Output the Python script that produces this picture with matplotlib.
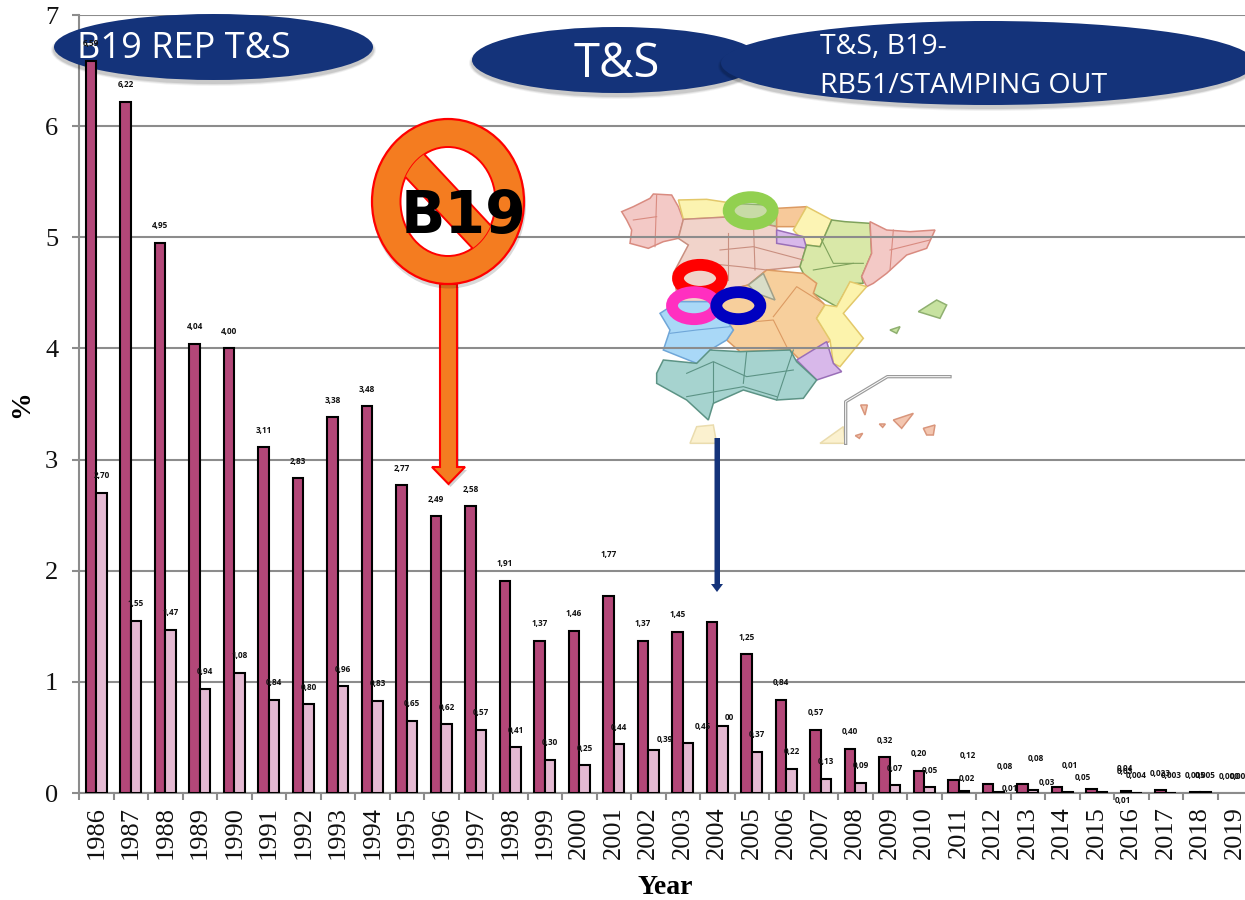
import numpy as np
import matplotlib
matplotlib.use("Agg")
import matplotlib.pyplot as plt
from matplotlib.patches import Ellipse, Polygon
from matplotlib.transforms import Affine2D

years = list(range(1986, 2020))
dark_values = [6.59, 6.22, 4.95, 4.04, 4.00, 3.11, 2.83, 3.38, 3.48, 2.77, 2.49, 2.58, 1.91, 1.37, 1.46, 1.77, 1.37,
               1.45, 1.54, 1.25, 0.84, 0.57, 0.40, 0.32, 0.20, 0.12, 0.08, 0.08, 0.05, 0.04, 0.02, 0.023, 0.005, 0.0]
light_values = [2.70, 1.55, 1.47, 0.94, 1.08, 0.84, 0.80, 0.96, 0.83, 0.65, 0.62, 0.57, 0.41, 0.30, 0.25, 0.44, 0.39,
                0.45, 0.60, 0.37, 0.22, 0.13, 0.09, 0.07, 0.05, 0.02, 0.01, 0.03, 0.01, 0.01, 0.004, 0.003, 0.005, 0.0]
dark_labels = ["6,59", "6,22", "4,95", "4,04", "4,00", "3,11", "2,83", "3,38", "3,48", "2,77", "2,49", "2,58", "1,91",
               "1,37", "1,46", "1,77", "1,37", "1,45", "", "1,25", "0,84", "0,57", "0,40", "0,32", "0,20", "0,12",
               "0,08", "0,08", "0,05", "0,03", "0,04", "0,023", "0,005", "0,000"]
light_labels = ["2,70", "1,55", "1,47", "0,94", "1,08", "0,84", "0,80", "0,96", "0,83", "0,65", "0,62", "0,57", "0,41",
                "0,30", "0,25", "0,44", "0,39", "0,45", "00", "0,37", "0,22", "0,13", "0,09", "0,07", "0,05", "0,02",
                "0,01", "0,03", "0,01", "0,01", "0,004", "0,003", "0,005", "0,000"]
# label offsets in pixels (dx, dy) where they leave the usual position
dark_offset = {15: (0, 42), 25: (14, 24), 26: (17, 18), 27: (13, 26), 28: (26, 10), 29: (33, 17), 30: (-1, 22)}
light_offset = {16: (11, 10), 17: (15, 16), 18: (7, 9), 25: (3, 12), 26: (11, 3), 27: (14, 7), 28: (2.5, 26),
                29: (21, -9)}

W, H = 1245, 900
DARK, LIGHT, NAVY, GRID = "#b34778", "#e4b9d2", "#14337a", "#8c8c8c"
SERIF = "Liberation Serif"

fig = plt.figure(figsize=(W / 100, H / 100), dpi=100, facecolor="white")
ax = fig.add_axes([79 / W, (H - 793) / H, 1173 / W, 778 / H])
ax.set_facecolor("none")
px = Affine2D().scale(1 / W, -1 / H).translate(0, 1) + fig.transFigure


def ell(cx, cy, w, h, z, **kw):
    p = Ellipse((cx, cy), w, h, transform=px, clip_on=False, zorder=z, **kw)
    ax.add_patch(p)
    return p


def shadow(cx, cy, w, h, z):
    for i, a in zip((6, 4, 2), (0.05, 0.07, 0.10)):
        ell(cx, cy + 3, w + i, h + i, z, fc="#000000", ec="none", alpha=a)


# ---------- map, kept below the grid lines ----------
def zm(points):
    return [(600 + a / 3, 170 + b / 3) for a, b in points]


regions = [
    ("#f3c9c6", "#d98b80", [(65, 125), (100, 110), (150, 85), (160, 72), (215, 75), (235, 110), (250, 150), (235, 205), (190, 215), (145, 235), (90, 220), (95, 180), (80, 150)]),
    ("#fbf3b0", "#e3c86a", [(235, 90), (320, 88), (400, 100), (400, 140), (250, 148)]),
    ("#c8dba6", "#8fb070", [(400, 100), (500, 105), (530, 115), (530, 170), (400, 140)]),
    ("#f1d3ca", "#c98f80", [(250, 148), (400, 140), (530, 170), (530, 205), (620, 225), (600, 290), (500, 300), (445, 345), (385, 360), (340, 395), (235, 395), (220, 310), (265, 225), (235, 205)]),
    ("#f7c99a", "#dc9a62", [(530, 115), (620, 110), (590, 170), (530, 170)]),
    ("#fcf4b4", "#e3c86a", [(620, 110), (695, 150), (660, 230), (620, 225), (580, 180)]),
    ("#d8b8ea", "#9a6fb8", [(530, 180), (610, 200), (620, 235), (530, 220)]),
    ("#d9e8a8", "#7fa25c", [(695, 150), (735, 155), (810, 160), (815, 250), (785, 320), (790, 340), (750, 340), (710, 410), (640, 370), (600, 290), (620, 225), (660, 230)]),
    ("#f3c9c6", "#d98b80", [(810, 155), (860, 180), (930, 185), (1005, 180), (980, 235), (920, 255), (860, 310), (820, 340), (800, 350), (785, 320), (815, 250)]),
    ("#f7cf9c", "#dc9a62", [(500, 300), (610, 310), (650, 340), (640, 370), (675, 405), (650, 445), (695, 510), (600, 570), (570, 540), (420, 545), (380, 510), (400, 480), (345, 400), (385, 360), (445, 345)]),
    ("#d9ddc8", "#a0a08a", [(490, 310), (525, 390), (470, 370), (445, 345)]),
    ("#fcf3ac", "#e3c86a", [(750, 335), (800, 350), (730, 430), (790, 505), (720, 590), (700, 580), (690, 510), (650, 445), (675, 405), (710, 410)]),
    ("#d8b8ea", "#9a6fb8", [(680, 515), (700, 580), (725, 605), (650, 630), (590, 570)]),
    ("#a9d8f7", "#6fa6d8", [(235, 395), (340, 395), (400, 480), (380, 510), (330, 540), (330, 565), (290, 580), (190, 540), (210, 480), (180, 430)]),
    ("#a6d3cf", "#5c9385", [(190, 570), (290, 580), (330, 540), (420, 545), (570, 540), (590, 575), (650, 630), (610, 685), (530, 690), (430, 660), (340, 700), (325, 750), (260, 690), (170, 640), (170, 610)]),
    ("#c7e2a0", "#8fb070", [(955, 425), (1010, 390), (1040, 405), (1020, 445)]),
    ("#c7e2a0", "#8fb070", [(870, 480), (900, 470), (890, 490)]),
    ("#fbf1cf", "#eadcae", [(270, 820), (290, 770), (340, 765), (350, 820)]),
    ("#fbf1cf", "#eadcae", [(660, 820), (730, 770), (735, 820)]),
    ("#f3c6b0", "#d9967c", [(880, 750), (940, 730), (905, 775)]),
    ("#f3c6b0", "#d9967c", [(970, 775), (1005, 765), (1000, 795), (980, 795)]),
    ("#f3c6b0", "#d9967c", [(782, 705), (802, 705), (795, 735)]),
    ("#f3c6b0", "#d9967c", [(838, 762), (856, 762), (848, 772)]),
    ("#f3c6b0", "#d9967c", [(766, 797), (788, 790), (778, 805)]),
]
for fc, ec, pts in regions:
    ax.add_patch(Polygon(zm(pts), closed=True, fc=fc, ec=ec, lw=1.1, transform=px, clip_on=False, zorder=0.3))
inner_lines = [
    ([(360, 240), (460, 230), (610, 270)], "#c98f80"), ([(385, 190), (385, 330)], "#c98f80"),
    ([(460, 150), (465, 300)], "#c98f80"), ([(520, 440), (590, 350), (670, 400)], "#dc9a62"),
    ([(410, 460), (520, 450), (560, 530)], "#dc9a62"), ([(210, 490), (290, 480), (390, 470)], "#6fa6d8"),
    ([(260, 610), (340, 575), (440, 620), (580, 600)], "#5c9385"), ([(260, 680), (430, 650), (530, 680)], "#5c9385"),
    ([(440, 545), (430, 640)], "#5c9385"), ([(660, 200), (700, 280), (790, 280)], "#7fa25c"),
    ([(880, 180), (870, 300)], "#d98b80"), ([(170, 75), (165, 230)], "#d98b80"),
    ([(100, 150), (170, 140)], "#d98b80"), ([(640, 300), (760, 280)], "#7fa25c"),
    ([(340, 575), (340, 700)], "#5c9385"), ([(580, 540), (530, 690)], "#5c9385"),
    ([(320, 280), (420, 290), (500, 300)], "#c98f80"), ([(870, 240), (990, 210)], "#d98b80"),
]
for pts, c in inner_lines:
    xs, ys = zip(*zm(pts))
    ax.plot(xs, ys, color=c, lw=0.8, transform=px, clip_on=False, zorder=0.31)
for c, lw in (("#9a9a9a", 2.4), ("white", 0.7)):
    xs, ys = zip(*zm([(737, 820), (737, 695), (862, 620), (1050, 620)]))
    ax.plot(xs, ys, color=c, lw=lw, transform=px, clip_on=False, zorder=0.32)

# ---------- axes ----------
x = np.arange(len(years))
ax.set_xlim(-0.5, len(years) - 0.5)
ax.set_ylim(0, 7)
ax.set_yticks(range(8))
ax.set_xticks(x)
ax.set_xticklabels([str(y) for y in years], rotation=90, family=SERIF, fontsize=19, color="#111111")
ax.set_xticks(np.arange(-0.5, len(years)), minor=True)
ax.tick_params(axis="x", which="major", length=0, pad=9.5)
ax.tick_params(axis="x", which="minor", length=5, width=1.5, color=GRID)
ax.tick_params(axis="y", length=5, width=1.5, color=GRID, pad=10, labelsize=19, labelcolor="#111111")
for t in ax.get_yticklabels():
    t.set_family(SERIF)
ax.grid(axis="y", color=GRID, lw=1.5, zorder=0.5)
ax.set_axisbelow(True)
for s in ("top", "right"):
    ax.spines[s].set_visible(False)
for s in ("left", "bottom"):
    ax.spines[s].set_color(GRID)
    ax.spines[s].set_linewidth(1.5)
    ax.spines[s].set_zorder(0.6)
ax.set_xlabel("Year", family=SERIF, fontweight="bold", fontsize=20, va="center")
ax.xaxis.set_label_coords((665 - 79) / 1173, -(887 - 793) / 778)
ax.set_ylabel("%", family=SERIF, fontweight="bold", fontsize=20, va="center", rotation=90)
ax.yaxis.set_label_coords((22 - 79) / 1173, (793 - 404) / 778)

# ---------- banners ----------
shadow(213.5, 47, 319, 66, 1)
ell(213.5, 47, 319, 66, 1.1, fc=NAVY, ec="none")
shadow(617, 60, 290, 66, 1)
ell(617, 60, 290, 66, 1.1, fc=NAVY, ec="none")
shadow(988, 63, 534, 84, 1.2)
ell(988, 63, 534, 84, 1.3, fc=NAVY, ec="none")
SANS = "Open Sans"
ax.text(77, 49.5, "B19 REP T&S", transform=px, color="white", family=SANS, fontsize=26, ha="left", va="center",
        clip_on=False, zorder=1.5)
ax.text(617, 64, "T&S", transform=px, color="white", family=SANS, fontsize=34, ha="center", va="center",
        clip_on=False, zorder=1.5)
ax.text(820, 47, "T&S, B19-", transform=px, color="white", family=SANS, fontsize=20.5, ha="left", va="center",
        clip_on=False, zorder=1.5)
ax.text(820, 86, "RB51/STAMPING OUT", transform=px, color="white", family=SANS, fontsize=20.5, ha="left", va="center",
        clip_on=False, zorder=1.5)

# ---------- bars and labels ----------
ax.bar(x - 0.15, dark_values, 0.3, color=DARK, edgecolor="black", linewidth=[1.5 if v > 0 else 0 for v in dark_values], zorder=3)
ax.bar(x + 0.15, light_values, 0.3, color=LIGHT, edgecolor="black", linewidth=[1.5 if v > 0 else 0 for v in light_values], zorder=3)


def put_labels(xs, values, labels, offsets):
    for i, (a, v, t) in enumerate(zip(xs, values, labels)):
        if not t:
            continue
        dx, dy = offsets.get(i, (0, 17))
        ax.annotate(t, (a, v), xytext=(dx * 0.72, dy * 0.72), textcoords="offset points", ha="center", va="center",
                    family=SANS, fontweight="bold", fontsize=5.9, color="#111111", annotation_clip=False, zorder=6)


put_labels(x - 0.15, dark_values, dark_labels, dark_offset)
put_labels(x + 0.15, light_values, light_labels, light_offset)

# ---------- orange arrow, sign ----------
ORANGE = "#f47c20"
arrow = [(440, 284), (457, 284), (457, 467), (465, 467), (448.5, 484), (432, 467), (440, 467)]
ax.add_patch(Polygon([(a + 2, b + 3) for a, b in arrow], fc="black", ec="none", alpha=0.18, transform=px, clip_on=False, zorder=4))
ax.add_patch(Polygon(arrow, fc=ORANGE, ec="#ff0000", lw=1.5, transform=px, clip_on=False, zorder=4.1))
ell(449, 205, 154, 167, 4.2, fc="black", ec="none", alpha=0.15)
ell(448, 201.5, 152, 165, 4.3, fc=ORANGE, ec="#ff0000", lw=1.6)
hole = ell(448, 201.5, 95, 109, 4.4, fc="white", ec="#ff0000", lw=1.4)
band = Polygon([(360 + a / 3, 110 + b / 3) for a, b in [(135, 71), (455, 414), (395, 476), (75, 136)]],
               fc=ORANGE, ec="#ff0000", lw=1.4, transform=px, zorder=4.5)
ax.add_patch(band)
band.set_clip_path(hole)
ax.text(463, 216, "B19", transform=px, family="DejaVu Sans", fontweight="bold", fontsize=42, color="black",
        ha="center", va="center", clip_on=False, zorder=4.8)

# ---------- navy arrow ----------
nav = [(714.5, 438), (720, 438), (720, 584), (723, 584), (717, 592), (711, 584), (714.5, 584)]
ax.add_patch(Polygon(nav, fc=NAVY, ec="none", transform=px, clip_on=False, zorder=4.1))

# ---------- rings on the map ----------
for cx, cy, col in ((452, 122, "#92d050"), (300, 325, "#ff0000"), (282, 407, "#ff2fc0"), (415, 407, "#0000c0")):
    ell(600 + cx / 3, 170 + cy / 3, 44, 27, 2, fc="none", ec=col, lw=8.5)

fig.savefig("out.png", dpi=100, facecolor="white")
